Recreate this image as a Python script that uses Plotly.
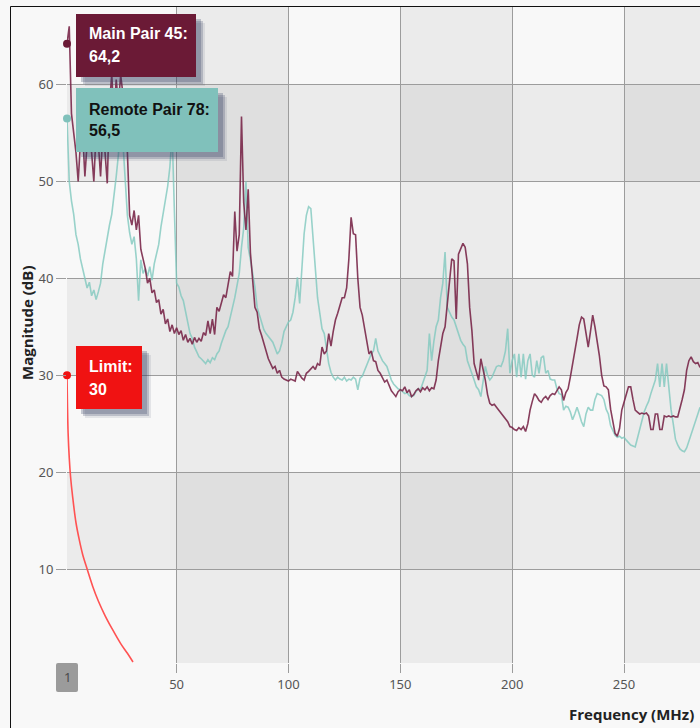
import plotly.graph_objects as go

# ---------------- data ----------------
freq = list(range(1, 285))  # MHz, 1-MHz steps

main_pair_45 = [
    64.2, 66, 57, 55, 53, 50, 54, 55, 50.5, 54,
    56, 53, 50, 55, 54, 50.5, 55, 53, 49.8, 58,
    61, 57, 60.5, 58, 61, 59, 56, 53, 46.5, 45.5,
    47, 45, 46.5, 43, 42, 41, 39.5, 40, 38.5, 38.8,
    37.5, 37.8, 36.3, 36.8, 35.3, 35.8, 34.5, 35.2, 34.3, 34.9,
    34.2, 34.6, 33.6, 34.2, 33.4, 33.8, 33.2, 33.9, 33.4, 33.8,
    33.5, 34.4, 34.1, 35.6, 34.3, 35.8, 34.2, 37, 36.6, 37.6,
    38.3, 38, 39.5, 40.7, 40.2, 46.9, 42.8, 44.5, 56.7, 47.8,
    45, 49.2, 42.6, 40.2, 37, 36.5, 34.8, 34.1, 33.2, 32.6,
    31.7, 31.2, 30.7, 30.9, 30.2, 30.5, 29.8, 29.6, 29.5, 29.4,
    29.6, 29.5, 29.4, 30.4, 30, 29.7, 29.5, 30.2, 30.4, 30.7,
    30.9, 30.6, 31.2, 31, 32.9, 32.2, 32.5, 34.3, 33, 34.5,
    35.7, 36.4, 37.2, 38, 38, 39, 42, 46.3, 44.6, 44.5,
    40, 37, 36.2, 35, 33.6, 32.2, 32.5, 31.5, 31.4, 30.5,
    30.2, 29.8, 29.3, 29.5, 28.9, 28.4, 28.1, 27.8, 28.3, 28.5,
    28.4, 28.8, 28.2, 28.5, 27.8, 28, 28.4, 28.6, 28.3, 28.7,
    28.5, 28.8, 28.4, 28.7, 28.6, 29.5, 31.5, 32.9, 34.3, 35,
    37.5, 40, 42, 41.8, 35.8, 42.5, 43, 43.6, 43.2, 41.5,
    37, 34.6, 31.2, 30.2, 29.5, 31.7, 30.6, 29.5, 28, 27.1,
    26.9, 27, 26.7, 26.4, 26, 25.7, 25.4, 25.2, 24.7, 24.6,
    24.4, 24.3, 24.6, 24.4, 24.7, 24.2, 25, 26.4, 27.3, 28.1,
    27.8, 27.4, 27.2, 27.6, 27.8, 27.5, 27.9, 28.1, 28, 28.4,
    28.8, 28.5, 27.4, 28.2, 28.6, 29.8, 31, 32.6, 33.8, 35.2,
    36, 35.8, 34.2, 32.9, 34.5, 36.2, 35, 33.6, 32, 30,
    28.9, 28.8, 28.5, 26.5, 25, 24, 23.7, 24.5, 26.4, 27.1,
    28, 28.8, 28.8, 27.5, 26.4, 26.2, 26, 26.1, 26, 26.1,
    25.8, 24.4, 24.4, 26, 26, 24.4, 24.4, 25.8, 25.7, 25.8,
    25.7, 25.8, 25.7, 25.7, 26.5, 27.5, 28.5, 30.5, 31.5, 31.9,
    31.4, 31.2, 31.3, 30.8,
]

remote_pair_78 = [
    56.5, 50, 48, 46.6, 44.5, 43.5, 42, 41, 40.2, 39,
    39.6, 38.2, 38.8, 37.8, 38.6, 39.5, 41.5, 43, 44.3, 45.5,
    46.6, 48.4, 50.5, 52.8, 57, 54, 50, 46.5, 44.7, 43.5,
    44.3, 42, 37.7, 41.9, 40.5, 41, 40.2, 41.2, 39.8, 41.5,
    42.5, 43.5, 45.3, 46.7, 47.8, 49.5, 51.5, 55, 47, 39.5,
    39.1, 38.2, 37.7, 36.5, 35.4, 34.3, 33.8, 32.9, 32.4, 31.9,
    31.7, 31.4, 31.2, 31.6, 31.3, 31.8, 31.6, 32.2, 32.5, 33.3,
    34, 34.6, 35, 36.2, 37, 38, 39.5, 40.5, 43.2, 45.2,
    50, 43.2, 41.9, 40.5, 39.1, 37, 36.2, 35.6, 34.7, 34.3,
    34, 33.6, 33.4, 32.8, 32.2, 32.5, 33.3, 34.5, 35, 35.5,
    35.7, 36.5, 38, 40.1, 37.4, 41, 44.6, 46.5, 47.4, 47.2,
    44, 41.5, 38, 36.4, 34.8, 34.3, 32.5, 31.2, 30.3, 29.8,
    29.5, 29.8, 29.6, 29.5, 29.8, 29.4, 29.6, 29.5, 29.8, 29.6,
    28.5, 29.7, 29.9, 30.5, 30.9, 31.5, 32.2, 32.5, 33.8, 32.5,
    31.9, 31.5, 31.2, 30.9, 30.2, 29.5, 29.1, 28.8, 28.6, 28.5,
    28.3, 28.1, 28.2, 27.9, 27.8, 27.9, 28.3, 28.6, 28.5, 29.2,
    29.8, 30.5, 34.3, 31.5, 33.5, 35, 35.7, 38, 39.5, 42.7,
    37, 36.5, 36, 35.7, 35, 34.3, 33.6, 33.2, 32.9, 31.5,
    30.9, 30.2, 29.5, 28.8, 28.5, 27.8, 29.5, 30.9, 30, 29.5,
    29.8, 30.3, 30.9, 31, 30.9, 31.5, 32.5, 34.8, 30.2, 31.5,
    32.2, 29.8, 32.2, 29.8, 32.2, 29.6, 31.5, 32.2, 30, 29.8,
    31.5, 30.2, 31.8, 32, 30.2, 30.5, 29.6, 29.5, 29.5, 28.6,
    28.1, 28, 26.4, 26.8, 26.7, 26.2, 25.4, 26, 26.7, 26,
    25.2, 24.7, 26, 26.7, 26.4, 26.4, 27.5, 28.1, 28, 27.9,
    27.5, 26.5, 26, 24.8, 24.3, 23.8, 23.6, 23.7, 23.5, 23.6,
    23.3, 23, 22.8, 22.7, 22.6, 23.5, 24.5, 25.4, 26.2, 26.8,
    27.3, 28.1, 28.8, 29.5, 31.2, 28.8, 31.2, 28.8, 31.2, 28.5,
    26.5, 25, 23.4, 22.8, 22.4, 22.2, 22.1, 22.5, 23.2, 24,
    24.7, 25.5, 26.1, 26.7,
]

limit_freq = [1, 1.2, 1.5, 2, 2.6, 3.5, 5, 6.5, 8, 10, 12.5, 15, 18, 21, 25, 28, 30.5]
limit_vals = [30, 27, 24, 21.5, 19.5, 17.5, 14.8, 13, 11.5, 10, 8.2, 6.7, 5.2, 3.9, 2.3, 1.3, 0.4]

x_ticks = [1, 50, 100, 150, 200, 250]
x_ticktext = ["", "50", "100", "150", "200", "250"]
y_ticks = [10, 20, 30, 40, 50, 60]

tooltip_main = ("Main Pair 45:", "64,2")
tooltip_remote = ("Remote Pair 78:", "56,5")
tooltip_limit = ("Limit:", "30")

# ---------------- layout geometry (pixels) ----------------
W, H = 700, 728
ML, MR, MT, MB = 67, 0, 7, 65
PW, PH = W - ML - MR, H - MT - MB


def px(xp):
    return (xp - ML) / PW


def py(yp):
    return (H - MB - yp) / PH


MAROON_LINE = "rgba(118,34,70,0.88)"
TEAL_LINE = "rgba(128,200,190,0.8)"
RED_LINE = "#ff5252"
MAROON_BOX = "#6b1a36"
TEAL_BOX = "#80c1bb"
RED_BOX = "#f01212"
GRID = "#9c9c9c"

fig = go.Figure()
fig.add_trace(go.Scatter(x=freq, y=remote_pair_78, mode="lines",
                         line=dict(color=TEAL_LINE, width=1.6), hoverinfo="skip"))
fig.add_trace(go.Scatter(x=freq, y=main_pair_45, mode="lines",
                         line=dict(color=MAROON_LINE, width=1.6), hoverinfo="skip"))
fig.add_trace(go.Scatter(x=limit_freq, y=limit_vals, mode="lines",
                         line=dict(color=RED_LINE, width=1.6, shape="spline"), hoverinfo="skip"))
# hover markers at the first point
fig.add_trace(go.Scatter(x=[freq[0]], y=[main_pair_45[0]], mode="markers", cliponaxis=False,
                         marker=dict(color=MAROON_BOX, size=8)))
fig.add_trace(go.Scatter(x=[freq[0]], y=[remote_pair_78[0]], mode="markers", cliponaxis=False,
                         marker=dict(color=TEAL_BOX, size=8)))
fig.add_trace(go.Scatter(x=[limit_freq[0]], y=[limit_vals[0]], mode="markers", cliponaxis=False,
                         marker=dict(color=RED_BOX, size=8)))

shapes = []
# alternating bands
for x0 in (50, 150, 250):
    shapes.append(dict(type="rect", xref="x", yref="paper", x0=x0, x1=x0 + 50, y0=0, y1=1,
                       fillcolor="rgba(0,0,0,0.052)", line=dict(width=0), layer="below"))
for y0 in (10, 30, 50):
    shapes.append(dict(type="rect", xref="paper", yref="y", x0=0, x1=1, y0=y0, y1=y0 + 10,
                       fillcolor="rgba(0,0,0,0.052)", line=dict(width=0), layer="below"))

# container border (left and top)
shapes.append(dict(type="line", xref="paper", yref="paper", x0=px(10.5), x1=px(10.5),
                   y0=py(728), y1=py(6.5), line=dict(color="#111", width=1)))
shapes.append(dict(type="line", xref="paper", yref="paper", x0=px(10.5), x1=px(700),
                   y0=py(6.5), y1=py(6.5), line=dict(color="#111", width=1)))


def box(x0, y0, x1, y1, color):
    # soft shadow
    for off, a in ((9, 0.10), (7, 0.22), (5, 0.25)):
        shapes.append(dict(type="rect", xref="paper", yref="paper",
                           x0=px(x0 + off), x1=px(x1 + off), y0=py(y0 + off), y1=py(y1 + off),
                           fillcolor=f"rgba(45,55,90,{a})", line=dict(width=0), layer="above"))
    shapes.append(dict(type="rect", xref="paper", yref="paper",
                       x0=px(x0), x1=px(x1), y0=py(y0), y1=py(y1),
                       fillcolor=color, line=dict(width=0), layer="above"))


box(76, 14, 196, 77, MAROON_BOX)
box(76, 88, 218, 152, TEAL_BOX)
box(76, 346, 142, 409, RED_BOX)

# "1" badge on the x axis (paper-referenced so it is not clipped)
shapes.append(dict(type="path", xref="paper", yref="paper", xsizemode="pixel", ysizemode="pixel",
                   xanchor=0, yanchor=0,
                   path="M -9,0 L 9,0 Q 11,0 11,-2 L 11,-27 Q 11,-29 9,-29 L -9,-29 "
                        "Q -11,-29 -11,-27 L -11,-2 Q -11,0 -9,0 Z",
                   fillcolor="#9b9b9b", line=dict(width=0), layer="above"))

annotations = []
BOXFONT = "Liberation Sans, Arial, sans-serif"


def label(text, x, y, color):
    annotations.append(dict(text=f"<b>{text}</b>", xref="paper", yref="paper", x=px(x), y=py(y),
                            xanchor="left", yanchor="middle", showarrow=False,
                            font=dict(family=BOXFONT, size=16, color=color)))


label(tooltip_main[0], 87, 34, "#ffffff")
label(tooltip_main[1], 87, 57, "#ffffff")
label(tooltip_remote[0], 87, 109, "#111111")
label(tooltip_remote[1], 87, 131, "#111111")
label(tooltip_limit[0], 87, 366, "#ffffff")
label(tooltip_limit[1], 87, 389, "#ffffff")

annotations.append(dict(text="1", xref="paper", yref="paper", x=0, y=py(677), showarrow=False,
                        xanchor="center", yanchor="middle",
                        font=dict(family="Noto Sans", size=13, color="#4a4a4a")))
annotations.append(dict(text="<b>Magnitude (dB)</b>", xref="paper", yref="paper",
                        x=px(27), y=py(323), textangle=-90, showarrow=False,
                        xanchor="center", yanchor="middle",
                        font=dict(family="Open Sans", size=15, color="#222")))
annotations.append(dict(text="<b>Frequency (MHz)</b>", xref="paper", yref="paper",
                        x=px(696), y=py(714), showarrow=False,
                        xanchor="right", yanchor="middle",
                        font=dict(family="Open Sans", size=15, color="#222")))

fig.update_layout(
    width=W, height=H,
    margin=dict(l=ML, r=MR, t=MT, b=MB),
    paper_bgcolor="#f8f8f8", plot_bgcolor="#f8f8f8",
    showlegend=False,
    shapes=shapes, annotations=annotations,
    font=dict(family="Noto Sans", size=13, color="#555"),
    xaxis=dict(range=[1, 1 + PW / 2.237], tickvals=x_ticks, ticktext=x_ticktext,
               showgrid=True, gridcolor=GRID, gridwidth=1, zeroline=False, showline=False,
               ticks="outside", ticklen=9, tickcolor=GRID, tickfont=dict(size=13, color="#555")),
    yaxis=dict(range=[0.3, 68], tickvals=y_ticks,
               showgrid=True, gridcolor=GRID, gridwidth=1, zeroline=False, showline=False,
               ticks="outside", ticklen=10, tickcolor=GRID, tickfont=dict(size=13, color="#555")),
)

fig.write_html("out.html")
